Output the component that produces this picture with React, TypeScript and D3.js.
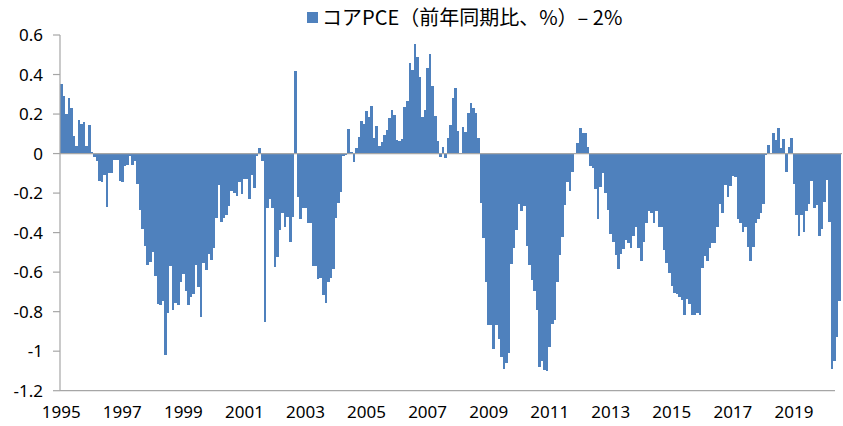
import React from 'react';
import * as d3 from 'd3';

// first month of the series (January)
const startYear = 1995;

// x axis labels, every second January
const tickYears = ['1995', '1997', '1999', '2001', '2003', '2005', '2007', '2009', '2011', '2013', '2015', '2017', '2019'];

// y axis ticks
const yTicks = [0.6, 0.4, 0.2, 0, -0.2, -0.4, -0.6, -0.8, -1, -1.2];

const legendLabel = 'コアPCE（前年同期比、%）– 2%';

// core PCE y/y minus 2%, monthly, one row per year
const coreGap: number[] = [
  0.35, 0.29, 0.2, 0.28, 0.23, 0.09, 0.04, 0.17, 0.15, 0.16, 0.04, 0.145,
  0.01, -0.015, -0.04, -0.14, -0.145, -0.11, -0.27, -0.1, -0.1, -0.035, -0.035, -0.14,
  -0.145, -0.065, -0.06, -0.01, -0.057, -0.04, -0.154, -0.285, -0.383, -0.467, -0.565, -0.547,
  -0.5, -0.62, -0.76, -0.767, -0.744, -1.02, -0.805, -0.568, -0.79, -0.754, -0.767, -0.648,
  -0.61, -0.693, -0.767, -0.724, -0.71, -0.565, -0.673, -0.825, -0.555, -0.59, -0.51, -0.54,
  -0.48, -0.327, -0.16, -0.344, -0.327, -0.31, -0.263, -0.19, -0.2, -0.213, -0.145, -0.206,
  -0.13, -0.128, -0.23, -0.11, -0.175, -0.01, 0.03, -0.037, -0.85, -0.277, -0.23, -0.277,
  -0.575, -0.525, -0.385, -0.3, -0.37, -0.32, -0.45, -0.32, 0.42, -0.218, -0.332, -0.277,
  -0.277, -0.35, -0.353, -0.568, -0.568, -0.636, -0.63, -0.715, -0.754, -0.65, -0.63, -0.585,
  -0.327, -0.248, -0.196, -0.012, -0.005, 0.125, 0.01, -0.045, 0.027, 0.083, 0.165, 0.148,
  0.213, 0.184, 0.241, 0.081, 0.137, 0.04, 0.057, 0.094, 0.12, 0.179, 0.221, 0.196,
  0.069, 0.064, 0.073, 0.234, 0.267, 0.457, 0.423, 0.553, 0.49, 0.385, 0.184, 0.221,
  0.432, 0.504, 0.342, 0.19, 0.066, -0.015, 0.032, -0.024, 0.078, 0.145, 0.28, 0.334,
  0.115, 0.005, 0.133, 0.108, 0.207, 0.255, 0.233, 0.204, 0.078, -0.248, -0.428, -0.651,
  -0.867, -0.867, -0.99, -0.87, -0.94, -1.03, -1.09, -1.06, -1.01, -0.558, -0.48, -0.386,
  -0.256, -0.29, -0.263, -0.47, -0.563, -0.64, -0.695, -0.79, -1.08, -1.05, -1.095, -1.1,
  -0.977, -0.862, -0.84, -0.648, -0.513, -0.423, -0.26, -0.142, -0.19, -0.091, 0.005, 0.052,
  0.128, 0.106, 0.103, 0.035, -0.062, -0.074, -0.18, -0.33, -0.17, -0.096, -0.2, -0.285,
  -0.407, -0.45, -0.513, -0.585, -0.51, -0.485, -0.437, -0.455, -0.48, -0.417, -0.37, -0.48,
  -0.543, -0.445, -0.351, -0.29, -0.3, -0.351, -0.29, -0.37, -0.373, -0.487, -0.555, -0.606,
  -0.67, -0.707, -0.712, -0.725, -0.74, -0.816, -0.737, -0.76, -0.816, -0.816, -0.808, -0.816,
  -0.58, -0.52, -0.546, -0.48, -0.452, -0.452, -0.373, -0.255, -0.3, -0.159, -0.219, -0.162,
  -0.113, -0.12, -0.331, -0.35, -0.395, -0.37, -0.474, -0.546, -0.474, -0.35, -0.33, -0.3,
  -0.255, -0.005, 0.044, 0.005, 0.106, 0.07, 0.127, 0.027, 0.074, -0.091, 0.035, 0.078,
  -0.154, -0.31, -0.417, -0.31, -0.395, -0.29, -0.255, -0.137, -0.277, -0.26, -0.417, -0.381,
  -0.246, -0.133, -0.344, -1.09, -1.05, -0.93, -0.745,
];

const months = coreGap.map(
  (_, i) => `${startYear + Math.floor(i / 12)}-${String((i % 12) + 1).padStart(2, '0')}`,
);

const W = 843;
const H = 426;
const left = 60;
const right = 841;
const top = 35;
const bottom = 390.7;

const barColor = '#4F81BD';
const axisColor = '#A6A6A6';
const numFont = "'Noto Sans', sans-serif";

export default function App() {
  const x = d3.scaleBand<string>().domain(months).range([left, right]).padding(0);
  const y = d3.scaleLinear().domain([-1.2, 0.6]).range([bottom, top]);
  const y0 = y(0);

  return (
    <svg
      width={W}
      height={H}
      style={{ position: 'absolute', left: 0, top: 0, background: '#fff' }}
    >
      {/* bars, crisp so neighbouring months don't show seams */}
      <g shapeRendering="crispEdges">
        {coreGap.map((v, i) => (
          <rect
            key={months[i]}
            x={x(months[i])}
            width={x.bandwidth()}
            y={Math.min(y(v), y0)}
            height={Math.abs(y(v) - y0)}
            fill={barColor}
          />
        ))}
      </g>

      {/* axes */}
      <line x1={left} x2={right + 1} y1={y0} y2={y0} stroke={axisColor} strokeWidth={1.2} />
      <line x1={left} x2={835} y1={bottom} y2={bottom} stroke={axisColor} strokeWidth={1.2} />
      <line x1={left} x2={left} y1={top} y2={bottom} stroke={axisColor} strokeWidth={1.2} />
      {yTicks.map((t) => (
        <g key={t}>
          <line x1={left - 7} x2={left} y1={y(t)} y2={y(t)} stroke={axisColor} strokeWidth={1.2} />
          <text
            x={43}
            y={y(t)}
            dy="0.36em"
            textAnchor="end"
            fontFamily={numFont}
            fontSize={17}
            fill="#000"
          >
            {`${+t.toFixed(1)}`}
          </text>
        </g>
      ))}

      {/* x labels */}
      {tickYears.map((yr) => {
        const m = `${yr}-01`;
        return (
          <text
            key={yr}
            x={(x(m) ?? 0) + x.bandwidth() / 2}
            y={418}
            textAnchor="middle"
            fontFamily={numFont}
            fontSize={17}
            fill="#000"
          >
            {yr}
          </text>
        );
      })}

      {/* legend */}
      <rect x={307} y={12} width={11} height={11} fill={barColor} />
      <text
        x={322}
        y={25}
        fontFamily="'Noto Sans CJK JP', 'Noto Sans', sans-serif"
        fontSize={20}
        fill="#000"
      >
        {legendLabel}
      </text>
    </svg>
  );
}
